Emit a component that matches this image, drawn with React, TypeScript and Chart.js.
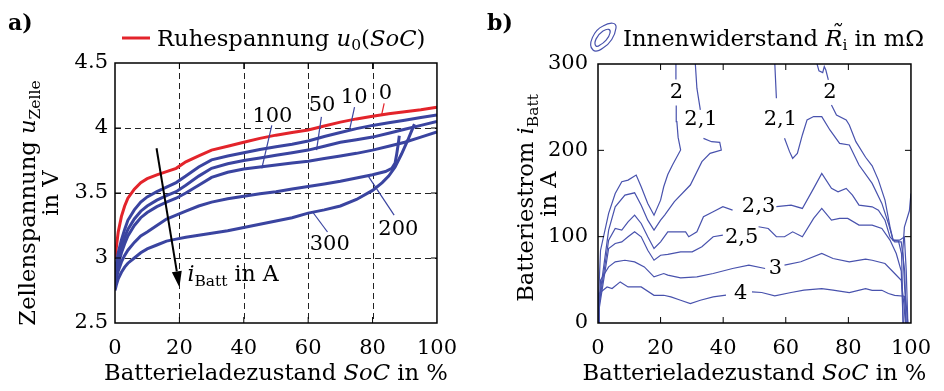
import React, { useEffect, useRef } from 'react';
import { Chart, registerables } from 'chart.js';
Chart.register(...registerables);

const FAMILY = '"DejaVu Serif", "Liberation Serif", serif';
const fR = (s: number) => `${s}px ${FAMILY}`;
const fI = (s: number) => `italic ${s}px ${FAMILY}`;
const fB = (s: number) => `bold ${s}px ${FAMILY}`;
const TS = 22.7; // title font size
const SS = 15.5; // subscript size

const BLUE = '#3a44a0';
const RED = '#e3242b';
const BLUE_C = '#4852ad';

// ---------------- Panel a data ----------------
const socA = [0, 0.5, 1, 2, 3, 4, 6, 8, 10, 13, 16, 19, 22, 26, 30, 35, 40, 45, 50, 55, 60, 65, 70, 75, 80, 85, 90, 95, 100];
const uRuhe = [3.0, 3.1, 3.2, 3.32, 3.4, 3.46, 3.53, 3.58, 3.61, 3.64, 3.665, 3.69, 3.74, 3.785, 3.83, 3.86, 3.89, 3.92, 3.945, 3.965, 3.985, 4.015, 4.045, 4.07, 4.09, 4.11, 4.125, 4.14, 4.16];
const u10 = [2.9, 2.97, 3.04, 3.14, 3.22, 3.29, 3.37, 3.43, 3.47, 3.51, 3.545, 3.58, 3.63, 3.7, 3.755, 3.785, 3.81, 3.835, 3.855, 3.875, 3.9, 3.935, 3.965, 3.995, 4.02, 4.04, 4.06, 4.08, 4.1];
const u50 = [2.87, 2.93, 2.99, 3.08, 3.16, 3.22, 3.3, 3.36, 3.4, 3.445, 3.48, 3.51, 3.56, 3.63, 3.69, 3.725, 3.75, 3.77, 3.79, 3.81, 3.83, 3.86, 3.89, 3.91, 3.93, 3.96, 3.99, 4.02, 4.05];
const u100 = [2.84, 2.9, 2.95, 3.04, 3.11, 3.17, 3.25, 3.31, 3.35, 3.395, 3.43, 3.46, 3.5, 3.56, 3.62, 3.66, 3.685, 3.7, 3.715, 3.73, 3.745, 3.765, 3.785, 3.805, 3.83, 3.86, 3.89, 3.93, 3.97];
const soc200 = [0, 0.5, 1, 2, 3, 4, 6, 8, 10, 13, 16, 19, 22, 26, 30, 35, 40, 45, 50, 55, 60, 65, 70, 75, 80, 84, 86, 87, 87.5, 88, 88.3];
const u200 = [2.8, 2.85, 2.9, 2.97, 3.02, 3.06, 3.12, 3.17, 3.2, 3.25, 3.3, 3.33, 3.36, 3.4, 3.43, 3.455, 3.475, 3.495, 3.51, 3.53, 3.55, 3.57, 3.59, 3.615, 3.64, 3.665, 3.69, 3.73, 3.8, 3.88, 3.94];
const soc300 = [0, 0.5, 1, 2, 3, 4, 6, 8, 10, 13, 16, 19, 22, 26, 30, 35, 40, 45, 50, 55, 60, 65, 70, 75, 80, 83, 85, 87, 89, 91, 93];
const u300 = [2.75, 2.8, 2.84, 2.89, 2.93, 2.96, 3.0, 3.04, 3.07, 3.1, 3.13, 3.145, 3.16, 3.175, 3.19, 3.21, 3.235, 3.26, 3.285, 3.31, 3.345, 3.37, 3.4, 3.45, 3.52, 3.58, 3.63, 3.7, 3.8, 3.91, 4.03];

const xTicks = [0, 20, 40, 60, 80, 100];
const xTickLabels = ['0', '20', '40', '60', '80', '100'];
const yTicksA = [2.5, 3, 3.5, 4, 4.5];
const yTickLabelsA = ['2.5', '3', '3.5', '4', '4.5'];

const curveLabels = ['0', '10', '50', '100', '200', '300'];
const curveLabelX = [84, 74.3, 64.3, 48.9, 88, 66.7];
const curveLabelY = [4.267, 4.232, 4.175, 4.09, 3.22, 3.105];
const leadX1 = [83.6, 74.4, 64.1, 48.7, 86.7, 66.0];
const leadY1 = [4.19, 4.16, 4.085, 4.02, 3.33, 3.2];
const leadX2 = [82.8, 72.8, 62.6, 45.6, 78.5, 61.5];
const leadY2 = [4.1, 3.98, 3.83, 3.69, 3.636, 3.35];

const arrowX = [12.9, 20];
const arrowY = [3.844, 2.775];
const arrowLabelX = 22.5;
const arrowLabelY = 2.82;

// ---------------- Panel b data ----------------
const yTicksB = [0, 100, 200, 300];
const yTickLabelsB = ['0', '100', '200', '300'];

const c2Lx = [0.1, 0.2, 0.8, 3.4, 5.5, 7.6, 9.6, 12.2, 13.8, 15.9, 17.9, 20, 21, 22.3, 23.8, 26.4, 25.6, 25.2, 25.0, null, 24.9, 24.9];
const c2Ly = [0, 30, 84, 127, 150, 163.6, 165.5, 171.3, 157.8, 138.5, 124.9, 142.3, 157.8, 172, 183, 200.4, 215, 233.3, 252, null, 282, 300];
const c21Lx = [0.1, 0.3, 3.4, 5.5, 8.6, 11.7, 13.8, 15.9, 17.9, 20, 21.3, 24.4, 29.5, 33.2, 35.8, 39.4, 38.9, 36.3, 33.7, null, 32.7, 31.6, 31.1];
const c21Ly = [0, 25, 107.5, 134.6, 148.1, 150.8, 136.5, 119.1, 107.5, 119.1, 125, 140.5, 159.8, 186.9, 196.5, 200.4, 209.3, 210, 213.9, null, 246.8, 272, 300];
const c23x = [0.1, 0.3, 3.4, 5.5, 7.6, 9.6, 11.7, 13.8, 15.9, 17.9, 20, 22.3, 24.4, 28, 29, 31.6, 33.7, 36.8, 39.9, 43, null, 57, 61.7, 65.3, 68.9, 71.5, 74.6, 76.7, 79.3, 81.3, 83.4, 87.6, 89.6, 91.7, 93.3, 94.8, 96.9, 98, 98.5];
const c23y = [0, 20, 95.9, 109.5, 107.5, 117.2, 124.9, 115.3, 99.8, 86.3, 94, 105.6, 105.6, 105.6, 99.9, 105.6, 123.1, 128.9, 134.7, 130.8, null, 134.7, 136.6, 132.7, 155.9, 173.3, 155.9, 152, 155.9, 148.2, 136.6, 134.6, 130.7, 119, 99.8, 94, 94, 60, 0];
const c25x = [0.1, 0.3, 3.4, 5.5, 7.6, 9.6, 11.7, 13.8, 15.9, 17.9, 20, 22.3, 26.4, 30.1, 33.2, 36.8, 39.9, null, 51.3, 54.4, 57, 59.6, 62.2, 65.3, 68.9, 71.5, 74.6, 77.2, 79.8, 83.4, 87.6, 90.7, 93.3, 95.3, 96.9, 97.5];
const c25y = [0, 15, 86.3, 92.1, 94, 99.8, 105.6, 99.8, 84.3, 72.7, 78.5, 79.4, 82.4, 82.4, 88.3, 99.9, 101.8, null, 111.5, 109.5, 99.9, 99.9, 105.6, 99.9, 121.1, 132.7, 119.2, 121.1, 121.1, 113.4, 113.3, 109.5, 96, 80.5, 60, 0];
const c3x = [0.1, 0.3, 0.8, 3.4, 5.5, 8.6, 11.7, 14.8, 17.9, 21, 22.3, 26.4, 31.6, 36.8, 43, 48.2, 53.4, null, 59.6, 64.8, 71.5, 75.1, 80.3, 85.5, 87.6, 91.7, 94.8, 96.9, 97.8, 98.2];
const c3y = [0, 10, 49.5, 65, 70.8, 72.7, 70.8, 65, 53.4, 57.3, 55.4, 52.3, 53.4, 57.3, 63.1, 67, 63.1, null, 67, 70.9, 80.5, 74.7, 70.9, 73.9, 72.7, 68.9, 57.3, 49.5, 20, 0];
const c4x = [0.1, 0.3, 2.9, 4.5, 7.1, 9.6, 13.8, 17.9, 21, 23.3, 26.4, 29.5, 32.7, 36.8, 40.9, null, 49.2, 52.3, 56.5, 61.7, 65.8, 71.5, 75.1, 80.3, 85.5, 87.6, 90.7, 92.8, 94.8, 97.9, 98.4];
const c4y = [0, 34.1, 41.8, 39.9, 47.6, 41.8, 41.8, 32.1, 32.1, 30.2, 26.4, 22.5, 26.4, 30.2, 32.2, null, 36.1, 35.3, 31.4, 35.3, 38, 39.9, 38, 35.3, 39.9, 37.9, 37.9, 34.1, 32.1, 31, 0];
const c21Rx = [56.5, 57, null, 59.6, 61.2, 62.2, 63.7, 65.3, 66.8, 68.9, 71.5, 74.1, 77.2, 80.3, 83.4, 87.6, 90.7, 92.8, 94.3, 96, 97, 97.5];
const c21Ry = [300, 260.3, null, 213.9, 198.5, 190.7, 196.5, 217.8, 235.2, 239.1, 239.1, 223.6, 208.1, 206.2, 183, 161.7, 138.5, 115.3, 96, 95, 80, 0];
const c2Rx = [70, 70.6, 71.8, 72.3, 72.8, 73.6, null, 74.6, 76.2, 79.3, 80.3, 82.4, 85.5, 87.6, 89.6, 91.7, 93.3, 94.3, 96.4, 97.9, 98.5, 99];
const c2Ry = [300, 292, 290, 297, 293, 281.6, null, 252.6, 241, 235.2, 229.4, 210.1, 192, 182, 165.5, 142.3, 111.4, 96, 96, 99.8, 60, 0];
const cEdgeX = [100, 99.5, 97.9, 97.4, 98, 99];
const cEdgeY = [150, 130, 111, 84, 40, 0];

const contourLabels = ['2', '2,1', '2,1', '2', '2,3', '2,5', '3', '4'];
const contourLabelX = [25.1, 32.9, 58.3, 74.1, 51.3, 45.9, 56.7, 45.6];
const contourLabelY = [267.3, 235.2, 235.2, 267.3, 134.7, 98.7, 63.1, 34.1];

type Seg = { t: string; f: string; dy?: number; tilde?: boolean };

function drawRich(ctx: CanvasRenderingContext2D, segs: Seg[], x: number, y: number, align: 'left' | 'center') {
  let w = 0;
  for (const s of segs) { ctx.font = s.f; w += ctx.measureText(s.t).width; }
  let cx = align === 'center' ? x - w / 2 : x;
  ctx.textAlign = 'left';
  ctx.textBaseline = 'alphabetic';
  for (const s of segs) {
    ctx.font = s.f;
    const sw = ctx.measureText(s.t).width;
    ctx.fillText(s.t, cx, y + (s.dy || 0));
    if (s.tilde) {
      ctx.textAlign = 'center';
      ctx.fillText('\u02DC', cx + sw / 2 + 2, y - 5);
      ctx.textAlign = 'left';
    }
    cx += sw;
  }
}

function inwardTicks(chart: any, xs: number[], ys: number[]) {
  const { ctx, chartArea: a, scales } = chart;
  const L = 6;
  ctx.save();
  ctx.strokeStyle = '#000';
  ctx.lineWidth = 1;
  ctx.beginPath();
  for (const v of xs) {
    const px = scales.x.getPixelForValue(v);
    ctx.moveTo(px, a.bottom); ctx.lineTo(px, a.bottom - L);
    ctx.moveTo(px, a.top); ctx.lineTo(px, a.top + L);
  }
  for (const v of ys) {
    const py = scales.y.getPixelForValue(v);
    ctx.moveTo(a.left, py); ctx.lineTo(a.left + L, py);
    ctx.moveTo(a.right, py); ctx.lineTo(a.right - L, py);
  }
  ctx.stroke();
  ctx.lineWidth = 1.5;
  ctx.strokeRect(a.left, a.top, a.right - a.left, a.bottom - a.top);
  ctx.restore();
}

const plugA = {
  id: 'panelA',
  beforeDatasetsDraw(chart: any) {
    const { ctx, chartArea: a, scales } = chart;
    ctx.save();
    ctx.strokeStyle = '#222';
    ctx.lineWidth = 1;
    ctx.setLineDash([6, 4]);
    ctx.beginPath();
    for (const v of xTicks) {
      if (v <= 0 || v >= 100) continue;
      const px = Math.round(scales.x.getPixelForValue(v)) + 0.5;
      ctx.moveTo(px, a.top); ctx.lineTo(px, a.bottom);
    }
    for (const v of yTicksA) {
      if (v <= 2.5 || v >= 4.5) continue;
      const py = Math.round(scales.y.getPixelForValue(v)) + 0.5;
      ctx.moveTo(a.left, py); ctx.lineTo(a.right, py);
    }
    ctx.stroke();
    ctx.restore();
  },
  afterDraw(chart: any) {
    const { ctx, chartArea: a, scales } = chart;
    const X = (v: number) => scales.x.getPixelForValue(v);
    const Y = (v: number) => scales.y.getPixelForValue(v);
    inwardTicks(chart, xTicks.slice(1, -1), yTicksA.slice(1, -1));
    ctx.save();
    for (let i = 0; i < curveLabels.length; i++) {
      ctx.strokeStyle = i === 0 ? RED : BLUE;
      ctx.lineWidth = 1.2;
      ctx.beginPath();
      ctx.moveTo(X(leadX1[i]), Y(leadY1[i]));
      ctx.lineTo(X(leadX2[i]), Y(leadY2[i]));
      ctx.stroke();
    }
    ctx.fillStyle = '#000';
    ctx.font = fR(21);
    ctx.textAlign = 'center';
    ctx.textBaseline = 'middle';
    for (let i = 0; i < curveLabels.length; i++) {
      ctx.fillText(curveLabels[i], X(curveLabelX[i]), Y(curveLabelY[i]));
    }
    // arrow
    const x1 = X(arrowX[0]), y1 = Y(arrowY[0]), x2 = X(arrowX[1]), y2 = Y(arrowY[1]);
    const ang = Math.atan2(y2 - y1, x2 - x1);
    const hl = 16, hw = 5;
    ctx.strokeStyle = '#000';
    ctx.lineWidth = 2;
    ctx.beginPath();
    ctx.moveTo(x1, y1);
    ctx.lineTo(x2 - hl * Math.cos(ang), y2 - hl * Math.sin(ang));
    ctx.stroke();
    ctx.beginPath();
    ctx.moveTo(x2, y2);
    ctx.lineTo(x2 - hl * Math.cos(ang) + hw * Math.sin(ang), y2 - hl * Math.sin(ang) - hw * Math.cos(ang));
    ctx.lineTo(x2 - hl * Math.cos(ang) - hw * Math.sin(ang), y2 - hl * Math.sin(ang) + hw * Math.cos(ang));
    ctx.closePath();
    ctx.fillStyle = '#000';
    ctx.fill();
    drawRich(ctx, [{ t: 'i', f: fI(22) }, { t: 'Batt', f: fR(SS), dy: 5 }, { t: ' in A', f: fR(22) }], X(arrowLabelX), Y(arrowLabelY), 'left');
    // x title
    drawRich(ctx, [{ t: 'Batterieladezustand ', f: fR(TS) }, { t: 'SoC', f: fI(TS) }, { t: ' in %', f: fR(TS) }], (a.left + a.right) / 2, 380, 'center');
    // y title
    ctx.save();
    ctx.translate(35, 203);
    ctx.rotate(-Math.PI / 2);
    drawRich(ctx, [{ t: 'Zellenspannung ', f: fR(TS) }, { t: 'u', f: fI(TS) }, { t: 'Zelle', f: fR(SS), dy: 5 }], 0, 0, 'center');
    ctx.restore();
    ctx.save();
    ctx.translate(58, 193);
    ctx.rotate(-Math.PI / 2);
    drawRich(ctx, [{ t: 'in V', f: fR(TS) }], 0, 0, 'center');
    ctx.restore();
    drawRich(ctx, [{ t: 'a)', f: fB(22) }], 8, 30, 'left');
    // legend
    ctx.strokeStyle = RED;
    ctx.lineWidth = 3;
    ctx.beginPath();
    ctx.moveTo(122, 38); ctx.lineTo(150, 38);
    ctx.stroke();
    drawRich(ctx, [
      { t: 'Ruhespannung ', f: fR(TS) }, { t: 'u', f: fI(TS) }, { t: '0', f: fR(SS), dy: 4 },
      { t: '(', f: fR(TS) }, { t: 'SoC', f: fI(TS) }, { t: ')', f: fR(TS) },
    ], 157, 46, 'left');
    ctx.restore();
  },
};

const plugB = {
  id: 'panelB',
  afterDraw(chart: any) {
    const { ctx, chartArea: a, scales } = chart;
    const X = (v: number) => scales.x.getPixelForValue(v);
    const Y = (v: number) => scales.y.getPixelForValue(v);
    inwardTicks(chart, xTicks.slice(1, -1), yTicksB.slice(1, -1));
    ctx.save();
    ctx.fillStyle = '#000';
    ctx.font = fR(21);
    ctx.textAlign = 'center';
    ctx.textBaseline = 'middle';
    for (let i = 0; i < contourLabels.length; i++) {
      ctx.fillText(contourLabels[i], X(contourLabelX[i]), Y(contourLabelY[i]));
    }
    drawRich(ctx, [{ t: 'Batterieladezustand ', f: fR(TS) }, { t: 'SoC', f: fI(TS) }, { t: ' in %', f: fR(TS) }], (a.left + a.right) / 2, 380, 'center');
    ctx.save();
    ctx.translate(63, 198);
    ctx.rotate(-Math.PI / 2);
    drawRich(ctx, [{ t: 'Batteriestrom ', f: fR(TS) }, { t: 'i', f: fI(TS) }, { t: 'Batt', f: fR(SS), dy: 5 }], 0, 0, 'center');
    ctx.restore();
    ctx.save();
    ctx.translate(86, 194);
    ctx.rotate(-Math.PI / 2);
    drawRich(ctx, [{ t: 'in A', f: fR(TS) }], 0, 0, 'center');
    ctx.restore();
    drawRich(ctx, [{ t: 'b)', f: fB(22) }], 17, 30, 'left');
    // legend icon (contour glyph)
    ctx.strokeStyle = BLUE_C;
    ctx.lineWidth = 1.2;
    ctx.beginPath();
    ctx.moveTo(123, 50);
    ctx.bezierCurveTo(117, 45, 124, 30, 133, 26);
    ctx.bezierCurveTo(140, 22, 147, 22, 146, 28);
    ctx.bezierCurveTo(145, 36, 140, 44, 133, 48);
    ctx.bezierCurveTo(129, 51, 125, 52, 123, 50);
    ctx.closePath();
    ctx.stroke();
    ctx.beginPath();
    ctx.moveTo(126, 46);
    ctx.bezierCurveTo(123, 43, 127, 35, 133, 31);
    ctx.bezierCurveTo(138, 28, 141, 29, 140, 33);
    ctx.bezierCurveTo(139, 38, 134, 43, 130, 45);
    ctx.bezierCurveTo(128, 46.5, 127, 47, 126, 46);
    ctx.closePath();
    ctx.stroke();
    drawRich(ctx, [
      { t: 'Innenwiderstand ', f: fR(TS) }, { t: 'R', f: fI(TS), tilde: true }, { t: 'i', f: fR(SS), dy: 4 },
      { t: ' in m\u03A9', f: fR(TS) },
    ], 153, 46, 'left');
    ctx.restore();
  },
};

function lineSet(xs: (number | null)[], ys: (number | null)[], color: string, width: number) {
  return {
    data: xs.map((x, i) => ({ x, y: ys[i] })),
    showLine: true,
    borderColor: color,
    backgroundColor: color,
    borderWidth: width,
    pointRadius: 0,
    pointHoverRadius: 0,
    fill: false,
    tension: 0,
    spanGaps: false,
  };
}

function xScale(height: number) {
  return {
    type: 'linear',
    min: 0,
    max: 100,
    afterBuildTicks: (s: any) => { s.ticks = xTicks.map((v) => ({ value: v })); },
    afterFit: (s: any) => { s.height = height; },
    ticks: {
      font: { family: FAMILY, size: 21 },
      color: '#000',
      padding: 13,
      maxRotation: 0,
      autoSkip: false,
      callback: (v: number) => xTickLabels[xTicks.indexOf(v)],
    },
    grid: { display: false, drawTicks: false },
    border: { display: false },
  };
}

function yScale(min: number, max: number, ticks: number[], labels: string[], width: number, pad: number) {
  return {
    type: 'linear',
    min,
    max,
    afterBuildTicks: (s: any) => { s.ticks = ticks.map((v) => ({ value: v })); },
    afterFit: (s: any) => { s.width = width; },
    ticks: {
      font: { family: FAMILY, size: 21 },
      color: '#000',
      padding: pad,
      autoSkip: false,
      callback: (v: number) => labels[ticks.indexOf(v)],
    },
    grid: { display: false, drawTicks: false },
    border: { display: false },
  };
}

export default function App() {
  const refA = useRef<HTMLCanvasElement>(null);
  const refB = useRef<HTMLCanvasElement>(null);

  useEffect(() => {
    document.body.style.margin = '0';
    const common = {
      responsive: false,
      animation: false,
      devicePixelRatio: 1,
      plugins: { legend: { display: false }, tooltip: { enabled: false } },
      events: [],
    };
    const chartA = new Chart(refA.current as HTMLCanvasElement, {
      type: 'scatter',
      data: {
        datasets: [
          lineSet(soc300, u300, BLUE, 3),
          lineSet(soc200, u200, BLUE, 3),
          lineSet(socA, u100, BLUE, 3),
          lineSet(socA, u50, BLUE, 3),
          lineSet(socA, u10, BLUE, 3),
          lineSet(socA, uRuhe, RED, 3),
        ],
      },
      options: {
        ...common,
        layout: { padding: { left: 0, top: 63, right: 33, bottom: 0 } },
        scales: {
          x: xScale(68),
          y: yScale(2.5, 4.5, yTicksA, yTickLabelsA, 115, 7),
        },
      } as any,
      plugins: [plugA],
    } as any);
    const chartB = new Chart(refB.current as HTMLCanvasElement, {
      type: 'scatter',
      data: {
        datasets: [
          lineSet(c2Lx, c2Ly, BLUE_C, 1.2),
          lineSet(c21Lx, c21Ly, BLUE_C, 1.2),
          lineSet(c23x, c23y, BLUE_C, 1.2),
          lineSet(c25x, c25y, BLUE_C, 1.2),
          lineSet(c3x, c3y, BLUE_C, 1.2),
          lineSet(c4x, c4y, BLUE_C, 1.2),
          lineSet(c21Rx, c21Ry, BLUE_C, 1.2),
          lineSet(c2Rx, c2Ry, BLUE_C, 1.2),
          lineSet(cEdgeX, cEdgeY, BLUE_C, 1.2),
        ],
      },
      options: {
        ...common,
        layout: { padding: { left: 0, top: 64, right: 23, bottom: 0 } },
        scales: {
          x: xScale(68),
          y: yScale(0, 300, yTicksB, yTickLabelsB, 128, 10),
        },
      } as any,
      plugins: [plugB],
    } as any);
    return () => {
      chartA.destroy();
      chartB.destroy();
    };
  }, []);

  return (
    <div style={{ position: 'relative', width: 944, height: 391, background: '#fff' }}>
      <canvas ref={refA} width={470} height={391} style={{ position: 'absolute', left: 0, top: 0 }} />
      <canvas ref={refB} width={474} height={391} style={{ position: 'absolute', left: 470, top: 0 }} />
    </div>
  );
}
